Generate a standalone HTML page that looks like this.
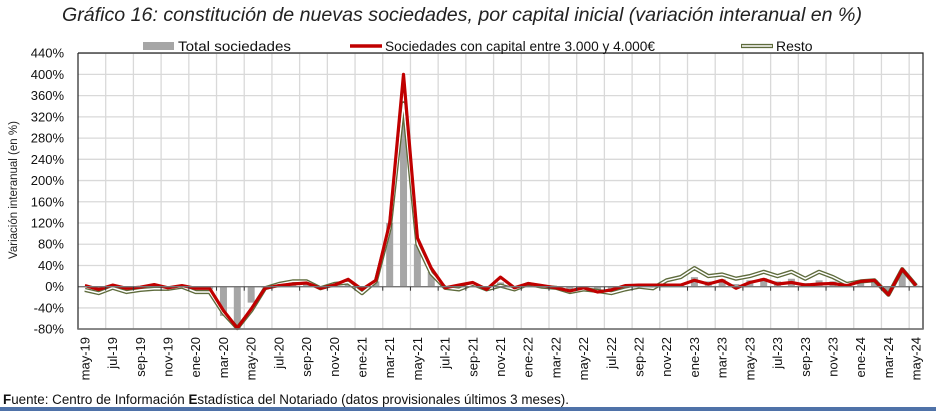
<!DOCTYPE html>
<html><head><meta charset="utf-8"><style>
body{margin:0;background:#fff;width:936px;height:411px;overflow:hidden;font-family:"Liberation Sans",Arial,sans-serif}
</style></head><body>
<svg id="s" width="936" height="411" xmlns="http://www.w3.org/2000/svg" font-family="Liberation Sans, Arial, sans-serif">
<text x="62" y="21" font-size="19" font-style="italic" fill="#222" textLength="800" lengthAdjust="spacingAndGlyphs">Gráfico 16: constitución de nuevas sociedades, por capital inicial (variación interanual en %)</text>
<text x="3" y="404" font-size="13.5" fill="#111" textLength="566" lengthAdjust="spacingAndGlyphs"><tspan font-weight="bold">F</tspan>uente: Centro de Información <tspan font-weight="bold">E</tspan>stadística del Notariado (datos provisionales últimos 3 meses).</text>
<rect x="0" y="407" width="936" height="4" fill="#4f72a8"/>
<text transform="translate(17,190) rotate(-90)" text-anchor="middle" font-size="11.5" fill="#222">Variación interanual (en %)</text>
<g id="g"></g>
</svg>
<script>
const g=document.getElementById('g');let h='';
const L=78,R=923,T=53,B=329,n=61,cw=(R-L)/n;
const y=v=>286.7-v*21.23/40, x=i=>L+cw*(i+0.5);
for(let k=0;k<14;k++){const v=440-40*k,yy=y(v);h+=`<line x1="${L}" x2="${R}" y1="${yy}" y2="${yy}" stroke="#d9d9d9" stroke-width="1.3"/>`;
h+=`<text x="64" y="${yy+4.5}" text-anchor="end" font-size="13" fill="#111">${v}%</text>`;}
for(let i=2;i<=61;i+=2){const xx=L+cw*i;h+=`<line x1="${xx}" x2="${xx}" y1="${T}" y2="${B}" stroke="#d9d9d9" stroke-width="1.3"/>`;}
const mon=['may','jun','jul','ago','sep','oct','nov','dic','ene','feb','mar','abr'];
for(let i=0;i<n;i+=2){const yr=19+Math.floor((i+4)/12);const m=mon[i%12];
h+=`<text transform="translate(${x(i)+4.5},337) rotate(-90)" text-anchor="end" font-size="13" fill="#111">${m}-${yr}</text>`;}
const Tt=[0,-4,0,-4,-3,0,-3,0,-3,-5,-55,-78,-30,-2,3,8,8,-3,3,8,-8,10,120,350,80,28,-2,-3,6,-4,8,-3,5,1,-2,-8,-3,-9,-8,-2,2,0,5,6,18,10,14,5,12,16,10,15,7,12,10,3,10,12,-12,30,2];
Tt.forEach((v,i)=>{const a=y(0),b=y(v);h+=`<rect x="${x(i)-3.5}" y="${Math.min(a,b)}" width="7" height="${Math.abs(a-b)}" fill="#a6a6a6"/>`;});
const Rr=[2,-5,3,-3,-1,4,-2,2,-3,-3,-45,-78,-42,-3,2,5,7,-3,3,14,-5,12,120,400,92,35,-2,3,8,-5,18,-2,6,2,-2,-8,-2,-10,-6,2,3,3,3,3,12,5,12,-3,8,14,5,8,3,5,6,2,10,12,-15,33,2];
const Gg=[-6,-12,-2,-10,-6,-4,-4,0,-10,-10,-50,-78,-45,-3,5,10,10,-3,5,8,-12,10,110,345,80,25,-2,-5,5,-5,2,-5,5,0,-2,-10,-5,-8,-12,-5,0,-3,12,18,35,20,23,15,20,28,20,28,15,28,18,5,10,12,-15,33,2];
const pts=a=>a.map((v,i)=>`${x(i).toFixed(1)},${y(v).toFixed(1)}`).join(' ');
h+=`<polyline points="${pts(Gg)}" fill="none" stroke="#5e6b3c" stroke-width="4.2" stroke-linejoin="round"/>`;
h+=`<polyline points="${pts(Gg)}" fill="none" stroke="#fff" stroke-width="1.5" stroke-linejoin="round"/>`;
h+=`<polyline points="${pts(Rr)}" fill="none" stroke="#c00000" stroke-width="3.2" stroke-linejoin="round"/>`;
h+=`<line x1="${L}" x2="${R}" y1="${y(0)}" y2="${y(0)}" stroke="#777" stroke-width="1.3"/>`;
for(let i=0;i<=61;i+=2){const xx=L+cw*i;h+=`<line x1="${xx}" x2="${xx}" y1="${y(0)}" y2="${y(0)+4}" stroke="#333"/>`;}
h+=`<polyline points="${L},${T} ${R},${T} ${R},${B} ${L},${B} ${L},${T}" fill="none" stroke="#222" stroke-width="1.2"/>`;
h+=`<line x1="${L}" x2="${R}" y1="${B}" y2="${B}" stroke="#777" stroke-width="1.5"/>`;
h+=`<rect x="143" y="42" width="31" height="8" fill="#a6a6a6"/><text x="178" y="51" font-size="14" fill="#111" textLength="113" lengthAdjust="spacingAndGlyphs">Total sociedades</text>`;
h+=`<line x1="350" x2="382" y1="46" y2="46" stroke="#c00000" stroke-width="3.5"/><text x="385" y="51" font-size="14" fill="#111" textLength="270" lengthAdjust="spacingAndGlyphs">Sociedades con capital entre 3.000 y 4.000€</text>`;
h+=`<line x1="741" x2="773" y1="46" y2="46" stroke="#5e6b3c" stroke-width="4.2"/><line x1="742" x2="772" y1="46" y2="46" stroke="#fff" stroke-width="1.5"/><text x="776" y="51" font-size="14" fill="#111">Resto</text>`;
g.innerHTML=h;
</script>
</body></html>
